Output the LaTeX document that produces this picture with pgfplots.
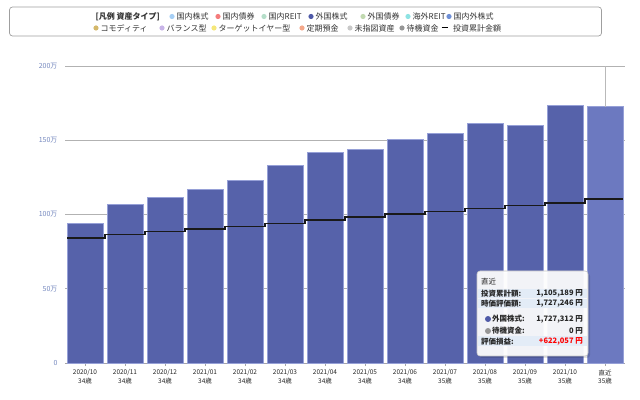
\documentclass[border=0pt]{standalone}
\usepackage{fontspec}
\setmainfont{Noto Sans CJK JP}
\usepackage{pgfplots}
\pgfplotsset{compat=1.18}
\definecolor{barc}{RGB}{86,98,170}
\definecolor{barh}{RGB}{108,121,192}
\definecolor{bard}{RGB}{150,160,215}
\definecolor{ytc}{RGB}{116,135,190}
\definecolor{band}{RGB}{227,236,247}
\definecolor{cA}{RGB}{166,207,245}
\definecolor{cB}{RGB}{244,124,124}
\definecolor{cC}{RGB}{181,222,201}
\definecolor{cD}{RGB}{79,90,168}
\definecolor{cE}{RGB}{193,217,176}
\definecolor{cF}{RGB}{142,227,227}
\definecolor{cG}{RGB}{111,143,214}
\definecolor{cH}{RGB}{212,184,106}
\definecolor{cI}{RGB}{200,180,232}
\definecolor{cJ}{RGB}{245,231,122}
\definecolor{cK}{RGB}{245,168,138}
\definecolor{cL}{RGB}{200,200,200}
\definecolor{cM}{RGB}{150,150,150}
\begin{document}
\begin{tikzpicture}
\path[use as bounding box] (0pt,0pt) rectangle (640pt,399pt);
\begin{axis}[
  at={(65pt,36pt)}, anchor=south west,
  width=560pt, height=297pt, scale only axis,
  xmin=-0.5, xmax=13.5, ymin=0, ymax=200,
  axis x line*=bottom, axis y line*=left,
  y axis line style={draw=none},
  x axis line style={draw=gray!70, line width=0.8pt, -},
  ymajorgrids, grid style={gray!60, line width=0.8pt},
  ytick={0,50,100,150,200},
  yticklabels={0,50万,100万,150万,200万},
  yticklabel style={font=\fontsize{7}{8}\selectfont, text=ytc, xshift=-1pt},
  ytick style={draw=none},
  xtick={0,...,13},
  xticklabels={{2020/10\\34歳},{2020/11\\34歳},{2020/12\\34歳},{2021/01\\34歳},{2021/02\\34歳},{2021/03\\34歳},{2021/04\\34歳},{2021/05\\34歳},{2021/06\\34歳},{2021/07\\35歳},{2021/08\\35歳},{2021/09\\35歳},{2021/10\\35歳},{直近\\35歳}},
  xticklabel style={font=\fontsize{6.5}{8.5}\selectfont, align=center, text=black!85},
  xtick style={draw=gray!70, line width=0.6pt},
  tick align=outside, major tick length=3pt,
  clip=false,
]
\addplot[ybar, bar width=36pt, fill=barc, draw=bard, line width=0.5pt] coordinates {
 (0,94.2) (1,106.6) (2,111.3) (3,116.7) (4,122.8) (5,133.3) (6,141.6)
 (7,144.0) (8,150.8) (9,154.6) (10,161.3) (11,159.8) (12,173.5)};
\addplot[ybar, bar width=36pt, fill=barh, draw=bard, line width=0.5pt] coordinates {(13,172.7)};
\addplot[draw=gray!55, line width=1pt] coordinates {(13,172.7) (13,200)};
\addplot[const plot, draw=black!90, line width=1.4pt] coordinates {
 (-0.45,84.3) (0.5,86.5) (1.5,88.6) (2.5,90.3) (3.5,92.1) (4.5,94.1) (5.5,96.2)
 (6.5,98.4) (7.5,100.4) (8.5,102.2) (9.5,104.0) (10.5,106.0) (11.5,107.8) (12.5,110.5) (13.45,110.5)};
\end{axis}
% legend box
\draw[gray!75, line width=0.7pt, rounded corners=3pt] (9.5pt,363pt) rectangle (601.5pt,392pt);
\begin{scope}[every node/.style={font=\fontsize{8}{9}\selectfont, inner sep=0pt, anchor=west, text=black!80}]
\node at (95.5pt,382.5pt) {\bfseries [凡例 資産タイプ]};
\foreach \x/\c/\t in {172/cA/国内株式, 218/cB/国内債券, 264/cC/国内REIT, 311/cD/外国株式, 363/cE/外国債券, 408/cF/海外REIT, 449/cG/国内外株式}{
  \fill[\c] (\x pt,382.5pt) circle (2.6pt);
  \node at (\x pt+4.5pt,382.5pt) {\t};
}
\foreach \x/\c/\t in {96/cH/コモディティ, 162/cI/バランス型, 214/cJ/ターゲットイヤー型, 302/cK/定期預金, 350/cL/未指図資産, 402/cM/待機資金}{
  \fill[\c] (\x pt,371pt) circle (2.6pt);
  \node at (\x pt+4.5pt,371pt) {\t};
}
\draw[black, line width=1pt] (441.5pt,371pt) -- (447.5pt,371pt);
\node at (453pt,371pt) {投資累計金額};
\end{scope}
% tooltip
\fill[black, opacity=0.12, rounded corners=3pt] (479pt,41pt) rectangle (590pt,126pt);
\draw[gray!45, fill=white, fill opacity=0.93, rounded corners=3pt, line width=0.6pt] (477pt,43pt) rectangle (588pt,128pt);
\fill[band] (478pt,101pt) rectangle (587pt,110pt);
\fill[band] (478pt,91pt) rectangle (587pt,100pt);
\fill[band] (478pt,52.5pt) rectangle (587pt,62.5pt);
\begin{scope}[every node/.style={font=\fontsize{7.5}{8}\selectfont, inner sep=0pt, text=black!85}]
\node[anchor=west] at (481pt,117pt) {直近};
\node[anchor=west] at (481pt,105.5pt) {\bfseries 投資累計額:};
\node[anchor=east] at (583pt,105.5pt) {\bfseries 1,105,189 円};
\node[anchor=west] at (481pt,95.5pt) {\bfseries 時価評価額:};
\node[anchor=east] at (583pt,95.5pt) {\bfseries 1,727,246 円};
\fill[cD] (488pt,80pt) circle (3pt);
\node[anchor=west] at (492pt,80pt) {\bfseries 外国株式:};
\node[anchor=east] at (583pt,80pt) {\bfseries 1,727,312 円};
\fill[cM] (488pt,68pt) circle (3pt);
\node[anchor=west] at (492pt,68pt) {\bfseries 待機資金:};
\node[anchor=east] at (583pt,68pt) {\bfseries 0 円};
\node[anchor=west] at (481pt,57.5pt) {\bfseries 評価損益:};
\node[anchor=east, text=red] at (583pt,57.5pt) {\bfseries +622,057 円};
\end{scope}
\end{tikzpicture}
\end{document}
